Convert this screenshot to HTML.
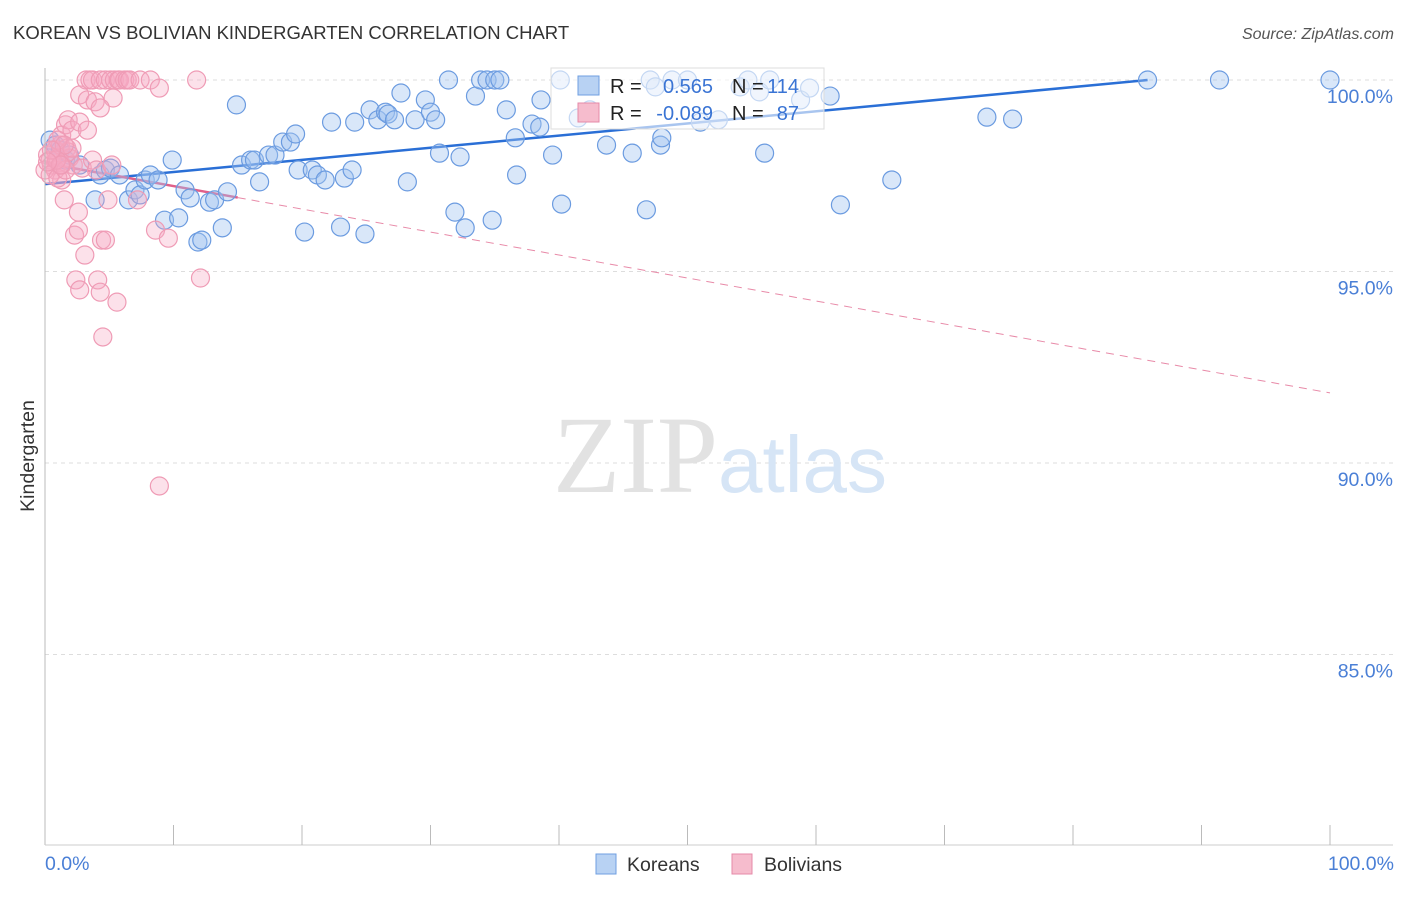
<!DOCTYPE html>
<html><head><meta charset="utf-8"><style>
body{margin:0;background:#fff;font-family:"Liberation Sans",sans-serif;}
svg text{font-family:"Liberation Sans",sans-serif;}
</style></head><body>
<svg width="1406" height="892" xmlns="http://www.w3.org/2000/svg" id="chart">
<text x="13" y="39" font-size="18.5" fill="#333">KOREAN VS BOLIVIAN KINDERGARTEN CORRELATION CHART</text>
<text x="1394" y="39" font-size="16" fill="#555" text-anchor="end" font-style="italic">Source: ZipAtlas.com</text>
<text transform="translate(34,456) rotate(-90)" font-size="19.5" fill="#333" text-anchor="middle">Kindergarten</text>
<g id="grid"></g>
<g>
<text x="553" y="492" font-size="110" fill="#e2e2e2" style="font-family:'Liberation Serif',serif">ZIP</text>
<text x="718" y="492" font-size="80" fill="#d6e5f6">atlas</text>
</g>
<g id="trend"></g>
<g id="pts"></g>
<line x1="45" y1="68" x2="45" y2="845" stroke="#bbb"/>
<line x1="45" y1="845" x2="1393" y2="845" stroke="#ccc"/>
<g id="xt"></g>
<text x="45" y="870" font-size="19.5" fill="#4a7fd6">0.0%</text>
<text x="1394" y="870" font-size="19.5" fill="#4a7fd6" text-anchor="end">100.0%</text>
<g>
<rect x="551" y="68" width="273" height="61" fill="#fff" fill-opacity="0.6" stroke="#ddd"/>
<rect x="578" y="76" width="21" height="19" fill="#b8d2f3" stroke="#6f9fe0"/>
<rect x="578" y="103" width="21" height="19" fill="#f6bccd" stroke="#e58aa8"/>
<text x="610" y="93" font-size="20" fill="#222">R = </text><text x="713" y="93" font-size="20" fill="#3a74d4" text-anchor="end">0.565</text>
<text x="732" y="93" font-size="20" fill="#222">N = </text><text x="799" y="93" font-size="20" fill="#3a74d4" text-anchor="end">114</text>
<text x="610" y="120" font-size="20" fill="#222">R = </text><text x="713" y="120" font-size="20" fill="#3a74d4" text-anchor="end">-0.089</text>
<text x="732" y="120" font-size="20" fill="#222">N = </text><text x="799" y="120" font-size="20" fill="#3a74d4" text-anchor="end">87</text>
</g>
<g><rect x="596" y="854" width="20" height="20" fill="#b8d2f3" stroke="#6f9fe0"/><text x="627" y="871" font-size="19.5" fill="#333">Koreans</text></g>
<g><rect x="732" y="854" width="20" height="20" fill="#f6bccd" stroke="#e58aa8"/><text x="764" y="871" font-size="19.5" fill="#333">Bolivians</text></g>
</svg>
<script>
const yTicks=[100,95,90,85];
const xTickVals=[10,20,30,40,50,60,70,80,90,100];
const koreanX=[0.4,0.8,1.2,1.6,1.9,2.7,3.9,4.3,4.7,5.1,5.8,6.5,7.0,7.4,7.8,8.2,8.8,9.3,9.9,10.4,10.9,11.3,11.9,12.2,12.8,13.2,13.8,14.2,14.9,15.3,16.0,16.3,16.7,17.4,17.9,18.5,19.1,19.5,19.7,20.2,20.8,21.2,21.8,22.3,23.0,23.3,23.9,24.1,24.9,25.3,25.9,26.5,26.7,27.2,27.7,28.2,28.8,29.6,30.0,30.4,30.7,31.4,31.9,32.3,32.7,33.5,33.9,34.4,34.8,35.0,35.4,35.9,36.6,36.7,37.9,38.5,38.6,39.5,40.1,40.2,41.5,42.4,43.7,45.7,46.8,47.1,47.5,47.9,48.0,48.8,50.0,51.0,52.4,54.1,54.7,55.6,56.0,56.4,58.8,59.5,61.1,61.9,65.9,73.3,75.3,85.8,91.4,100];
const koreanY=[98.43,98.30,98.17,97.91,98.04,97.78,96.87,97.52,97.65,97.70,97.52,96.87,97.13,97.00,97.39,97.52,97.39,96.34,97.91,96.40,97.13,96.92,95.77,95.82,96.81,96.87,96.14,97.08,99.35,97.78,97.91,97.91,97.34,98.04,98.04,98.38,98.38,98.59,97.65,96.03,97.65,97.52,97.39,98.90,96.16,97.44,97.65,98.90,95.98,99.22,98.96,99.16,99.11,98.96,99.66,97.34,98.96,99.48,99.16,98.96,98.09,100,96.55,97.99,96.14,99.58,100,100,96.34,100,100,99.22,98.49,97.52,98.85,98.77,99.48,98.04,100,96.76,99.01,99.22,98.30,98.09,96.61,100,99.82,98.30,98.49,100,100,98.90,98.96,99.82,100,99.69,98.09,100,99.48,99.79,99.58,96.74,97.39,99.03,98.98,100,100,100];
const bolivianX=[0.2,0.4,0.5,0.8,0.8,1.0,1.2,1.3,1.3,1.5,1.6,1.7,1.8,1.9,2.1,2.2,2.3,2.4,2.6,2.6,2.7,2.7,2.7,2.9,3.1,3.2,3.3,3.3,3.5,3.7,3.7,3.9,4.0,4.1,4.3,4.3,4.4,4.7,4.7,4.9,5.1,5.2,5.3,5.4,5.6,5.7,5.8,6.2,6.4,6.6,7.2,7.4,8.2,8.6,8.9,8.9,9.6,11.8,12.1,4.5,4.3,0.0,0.4,1.0,1.3,1.6,1.8,2.1,1.0,1.5,0.9,1.2,0.5,0.2];
const bolivianY=[98.04,97.91,97.78,98.17,97.65,97.96,98.30,98.56,97.39,96.87,98.83,98.22,98.96,97.96,98.69,97.78,95.95,94.78,96.55,96.08,99.61,98.90,94.52,97.70,95.43,100,99.48,98.69,100,97.91,100,99.43,97.65,94.78,100,94.46,95.82,95.82,100,96.87,100,97.78,99.53,100,94.20,100,100,100,100,100,96.87,100,100,96.08,99.79,89.40,95.87,100,94.83,93.29,99.27,97.65,97.52,97.44,97.78,97.65,98.12,98.22,98.43,98.30,97.91,97.78,98.17,97.86];
const koreanTrend=[97.28,0.0317];
const bolivianTrend=[97.83,-0.06];
const NS='http://www.w3.org/2000/svg';
const sx=v=>45+v*12.85;
const sy=v=>80+(100-v)*38.3;
function mk(tag,attrs,parent){const e=document.createElementNS(NS,tag);for(const k in attrs)e.setAttribute(k,attrs[k]);parent.appendChild(e);return e;}
const grid=document.getElementById('grid');
yTicks.forEach(t=>{
 const l=mk('line',{x1:45,x2:1393,y1:sy(t),y2:sy(t),stroke:'#ddd','stroke-dasharray':'4,4'},grid);
 
 
 const tx=mk('text',{x:1393,y:sy(t)+23,'font-size':19.5,fill:'#4a7fd6','text-anchor':'end'},grid);
 tx.textContent=t.toFixed(1)+'%';
 
 
});
const xt=document.getElementById('xt');
xTickVals.forEach(t=>{
 const l=mk('line',{x1:sx(t),x2:sx(t),y1:825,y2:845,stroke:'#bbb'},xt);
 
 
});
const pts=document.getElementById('pts');
koreanX.forEach((x,i)=>{
 const c=mk('circle',{cx:sx(x),cy:sy(koreanY[i]),r:9,fill:'rgba(160,195,240,0.4)',stroke:'#6b9be0','stroke-width':1.2},pts);
 
 
});
bolivianX.forEach((x,i)=>{
 const c=mk('circle',{cx:sx(x),cy:sy(bolivianY[i]),r:9,fill:'rgba(245,170,195,0.35)',stroke:'#ef9bb5','stroke-width':1.2},pts);
 
 
});
const tr=document.getElementById('trend');
const kEnd=(100-koreanTrend[0])/koreanTrend[1];
const kl=mk('line',{x1:sx(0),y1:sy(koreanTrend[0]),x2:sx(kEnd),y2:sy(100),stroke:'#2a6fd6','stroke-width':2.5},tr);


const bs=mk('line',{x1:sx(0),y1:sy(bolivianTrend[0]),x2:sx(15),y2:sy(bolivianTrend[0]+15*bolivianTrend[1]),stroke:'#e0608a','stroke-width':2.5},tr);


const bd=mk('line',{x1:sx(15),y1:sy(bolivianTrend[0]+15*bolivianTrend[1]),x2:sx(100),y2:sy(bolivianTrend[0]+100*bolivianTrend[1]),stroke:'#e88aa8','stroke-width':1,'stroke-dasharray':'8,6'},tr);


</script>
</body></html>
